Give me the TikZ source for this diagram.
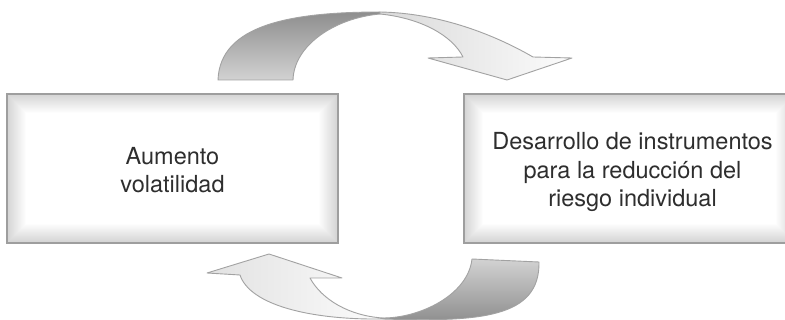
\documentclass[tikz,border=0pt]{standalone}
\usepackage{fontspec}
\setmainfont{TeX Gyre Heros}
\definecolor{edgegray}{HTML}{A2A2A2}
\definecolor{boxedge}{HTML}{9E9E9E}
\definecolor{darkshade}{HTML}{8E8E8E}
\definecolor{midshade}{HTML}{D2D2D2}
\definecolor{lightshade}{HTML}{DADADA}
\definecolor{paleshade}{HTML}{FCFCFC}
\definecolor{txtcol}{HTML}{2E2E2E}
\tikzset{
  bevelbox/.style={draw=boxedge, line width=1.3pt, minimum width=331pt, minimum height=149pt, inner sep=0pt,
    path picture={
      \foreach \i in {0,...,19}{
        \pgfmathsetmacro\g{17*(1-\i/19)}
        \fill[black!\g] ([shift={(\i pt,-\i pt)}]path picture bounding box.north west)
          rectangle ([shift={(-\i pt,\i pt)}]path picture bounding box.south east);
      }
    }},
  boxtext/.style={align=center, text=txtcol, font=\fontsize{23.5}{28.5}\selectfont, inner sep=0pt},
  arrowpart/.style={draw=edgegray, line width=0.9pt, line join=round}
}
\begin{document}
\begin{tikzpicture}[x=1pt,y=-1pt]
\useasboundingbox (0,0) rectangle (785,320);
\clip (0,0) rectangle (785,320);
\fill[white] (0,0) rectangle (785,320);
% boxes
\node[bevelbox] (boxL) at (172.5,168.5) {};
\node[bevelbox] (boxR) at (629.5,168.5) {};
\node[boxtext] (txtL) at (172.5,170) {Aumento\\volatilidad};
\node[boxtext] (txtR) at (632.5,172) {Desarrollo de instrumentos\\para la reducción del\\riesgo individual};
% top arrow
\path[arrowpart, top color=darkshade, bottom color=midshade]
  (218,80) .. controls (220,25) and (290,12) .. (380,12) -- (380,14)
  .. controls (335,18) and (294,45) .. (293,80) -- cycle;
\path[arrowpart, left color=lightshade, right color=paleshade]
  (380,12) .. controls (440,13) and (495,35) .. (533,57) -- (572,58) -- (507,80) -- (428,58) -- (463,57)
  .. controls (452,35) and (420,18) .. (380,14) -- cycle;
% bottom arrow
\path[arrowpart, left color=lightshade!80!white, right color=paleshade]
  (383,319) .. controls (310,320) and (250,305) .. (240,275) -- (207,273) -- (269,254) -- (342,278) -- (310,278)
  .. controls (322,300) and (350,316) .. (383,318) -- cycle;
\path[arrowpart, top color=midshade, bottom color=darkshade]
  (383,319) .. controls (480,322) and (540,318) .. (539,262) -- (472,259)
  .. controls (468,295) and (420,318) .. (383,318) -- cycle;
\end{tikzpicture}
\end{document}
